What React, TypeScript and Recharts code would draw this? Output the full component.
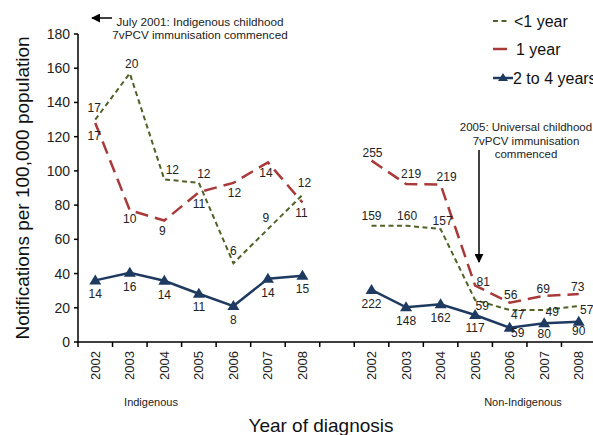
import React from 'react';
import { LineChart, Line, XAxis, YAxis, LabelList } from 'recharts';

// 15 slots: 7 Indigenous years, an empty gap, 7 non-Indigenous years
const categories = [
  'I2002', 'I2003', 'I2004', 'I2005', 'I2006', 'I2007', 'I2008',
  'gap',
  'N2002', 'N2003', 'N2004', 'N2005', 'N2006', 'N2007', 'N2008',
];
const yearLabels = [
  '2002', '2003', '2004', '2005', '2006', '2007', '2008',
  '',
  '2002', '2003', '2004', '2005', '2006', '2007', '2008',
];

// rates per 100,000
const under1Rates = [130, 157, 95, 93, 46, 66, 86, null, 68, 68, 66, 24.5, 18.7, 18.7, 21];
const oneYearRates = [128, 77, 71, 87.5, 93, 105, 81.5, null, 106, 92.3, 92, 33, 23, 27, 28];
const twoToFourRates = [36, 40.5, 35.8, 28.2, 21, 37, 38.7, null, 30.4, 20.3, 22, 15.8, 8.4, 10.9, 11.9];

// notification counts shown beside the points
const under1Counts = [17, 20, 12, 12, 6, 9, 12, null, 159, 160, 157, 59, 47, 49, 57];
const oneYearCounts = [17, 10, 9, 11, 12, 14, 11, null, 255, 219, 219, 81, 56, 69, 73];
const twoToFourCounts = [14, 16, 14, 11, 8, 14, 15, null, 222, 148, 162, 117, 59, 80, 90];

const yTicks = [0, 20, 40, 60, 80, 100, 120, 140, 160, 180];

// label nudges [dx, dy] relative to each point
const under1Shift = [
  [-1, -12], [2, -9], [8, -9], [5, -9], [0, -12], [-2, -11], [2, -12], [0, 0],
  [0, -10], [1, -10], [2, -8], [7, 6], [8, 5], [8, 2], [8, 4],
];
const oneYearShift = [
  [-1, 13], [0, 9], [-2, 10], [0, 12], [1, 10], [-2, 11], [-1, 10], [0, 0],
  [1, -8], [5, -10], [6, -8], [8, -4], [1, -8], [-1, -7], [-1, -7],
];
const twoToFourShift = [
  [0, 14], [0, 14], [0, 14], [0, 13], [0, 14], [0, 14], [0, 13], [0, 0],
  [0, 14], [0, 14], [0, 14], [0, 13], [8, 5], [0, 11], [0, 9],
];

const OLIVE = '#4F6228';
const RED = '#A83A3A';
const NAVY = '#1F3A60';
const FONT = '"Liberation Sans", Arial, sans-serif';

const CHART_W = 600;
const Y_AXIS_W = 78;
const RIGHT = 4;
const BAND = (CHART_W - Y_AXIS_W - RIGHT) / categories.length;

const chartData = categories.map((key, i) => ({
  key,
  under1: under1Rates[i],
  oneYear: oneYearRates[i],
  twoToFour: twoToFourRates[i],
  under1Count: under1Counts[i],
  oneYearCount: oneYearCounts[i],
  twoToFourCount: twoToFourCounts[i],
}));

function makeLabel(shifts: number[][]) {
  return (props: any) => {
    const { x, y, value, index } = props;
    if (value == null || x == null || y == null) return null;
    const [dx, dy] = shifts[index] ?? [0, 0];
    return (
      <text
        x={x + dx}
        y={y + dy}
        textAnchor="middle"
        dominantBaseline="central"
        fontSize={12}
        fontFamily={FONT}
        style={{ fill: '#222' }}
      >
        {value}
      </text>
    );
  };
}

function TriangleDot(props: any) {
  const { cx, cy } = props;
  if (cx == null || cy == null || props.value == null) return null;
  return <path d={`M${cx},${cy - 6} L${cx + 6},${cy + 4} L${cx - 6},${cy + 4} Z`} fill={NAVY} />;
}

function YearTick(props: any) {
  const { x, y, payload } = props;
  const left = x - BAND / 2;
  const year = yearLabels[payload.index] ?? '';
  return (
    <g>
      <line x1={left} x2={left} y1={y - 5} y2={y} stroke="#000" strokeWidth={1.5} />
      {year && (
        <text
          x={x}
          y={y + 4}
          transform={`rotate(-90, ${x}, ${y + 4})`}
          textAnchor="end"
          dominantBaseline="central"
          fontSize={13}
          fontFamily={FONT}
          fill="#222"
        >
          {year}
        </text>
      )}
    </g>
  );
}

export default function App() {
  return (
    <div
      style={{
        position: 'absolute',
        left: 0,
        top: 0,
        width: 593,
        height: 435,
        overflow: 'hidden',
        background: '#fff',
        fontFamily: FONT,
      }}
    >
      <LineChart
        width={CHART_W}
        height={435}
        data={chartData}
        margin={{ top: 34, right: RIGHT, left: 0, bottom: 0 }}
      >
        <XAxis
          dataKey="key"
          scale="band"
          interval={0}
          height={93}
          tickSize={5}
          tickMargin={0}
          tickLine={false}
          axisLine={{ stroke: '#000', strokeWidth: 1.5 }}
          tick={<YearTick />}
        />
        <YAxis
          width={Y_AXIS_W}
          domain={[0, 180]}
          ticks={yTicks}
          interval={0}
          tickSize={4}
          tickMargin={4}
          axisLine={{ stroke: '#000', strokeWidth: 1.5 }}
          tickLine={{ stroke: '#000', strokeWidth: 1.5 }}
          tick={{ fontSize: 14, fill: '#222', fontFamily: FONT }}
        />
        <Line
          dataKey="under1"
          stroke={OLIVE}
          strokeWidth={2}
          strokeDasharray="5 3.5"
          dot={false}
          connectNulls={false}
          isAnimationActive={false}
        >
          <LabelList dataKey="under1Count" content={makeLabel(under1Shift)} />
        </Line>
        <Line
          dataKey="oneYear"
          stroke={RED}
          strokeWidth={2.5}
          strokeDasharray="13 7"
          dot={false}
          connectNulls={false}
          isAnimationActive={false}
        >
          <LabelList dataKey="oneYearCount" content={makeLabel(oneYearShift)} />
        </Line>
        <Line
          dataKey="twoToFour"
          stroke={NAVY}
          strokeWidth={2.5}
          dot={<TriangleDot />}
          connectNulls={false}
          isAnimationActive={false}
        >
          <LabelList dataKey="twoToFourCount" content={makeLabel(twoToFourShift)} />
        </Line>
      </LineChart>

      <svg
        width={593}
        height={435}
        style={{ position: 'absolute', left: 0, top: 0, pointerEvents: 'none' }}
        fontFamily={FONT}
      >
        <defs>
          <marker id="arrow" viewBox="0 0 10 10" refX="9" refY="5" markerWidth="6" markerHeight="6" orient="auto">
            <path d="M0,0 L10,5 L0,10 Z" fill="#000" />
          </marker>
        </defs>

        {/* top annotation */}
        <line x1={112} y1={18} x2={92} y2={18} stroke="#000" strokeWidth={1.5} markerEnd="url(#arrow)" />
        <text x={200} y={26} textAnchor="middle" fontSize={11.7} fill="#222">
          July 2001: Indigenous childhood
        </text>
        <text x={200} y={39} textAnchor="middle" fontSize={11.7} fill="#222">
          7vPCV immunisation commenced
        </text>

        {/* 2005 annotation */}
        <text x={526} y={131} textAnchor="middle" fontSize={11.5} fill="#222">
          2005: Universal childhood
        </text>
        <text x={526} y={145} textAnchor="middle" fontSize={11.5} fill="#222">
          7vPCV immunisation
        </text>
        <text x={526} y={158} textAnchor="middle" fontSize={11.5} fill="#222">
          commenced
        </text>
        <line x1={479} y1={150} x2={479} y2={262} stroke="#000" strokeWidth={1.5} markerEnd="url(#arrow)" />

        {/* legend */}
        <line x1={493} y1={21} x2={509} y2={21} stroke={OLIVE} strokeWidth={2} strokeDasharray="5 3.5" />
        <text x={514} y={27} fontSize={16} fill="#111">&lt;1 year</text>
        <line x1={493} y1={49} x2={507} y2={49} stroke={RED} strokeWidth={2.5} />
        <text x={516} y={55} fontSize={16} fill="#111">1 year</text>
        <line x1={493} y1={78} x2={513} y2={78} stroke={NAVY} strokeWidth={2.5} />
        <path d="M503,73 L508,81 L498,81 Z" fill={NAVY} />
        <text x={513} y={84} fontSize={16} fill="#111">2 to 4 years</text>

        {/* group labels */}
        <text x={151} y={406} textAnchor="middle" fontSize={11} fill="#222">Indigenous</text>
        <text x={523} y={406} textAnchor="middle" fontSize={11} fill="#222">Non-Indigenous</text>

        {/* axis titles */}
        <text
          x={22}
          y={188}
          transform="rotate(-90, 22, 188)"
          textAnchor="middle"
          dominantBaseline="central"
          fontSize={19}
          fill="#111"
        >
          Notifications per 100,000 population
        </text>
        <text x={321} y={432} textAnchor="middle" fontSize={19} fill="#111">
          Year of diagnosis
        </text>
      </svg>
    </div>
  );
}
